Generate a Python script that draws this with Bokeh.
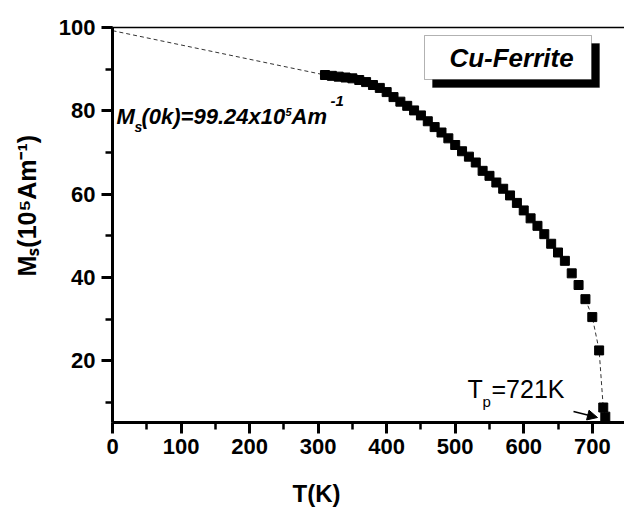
import math
from bokeh.plotting import figure
from bokeh.models import (Range1d, SingleIntervalTicker, FixedTicker, LinearAxis, Label,
                          BoxAnnotation, Arrow, NormalHead, Title)
from bokeh.embed import file_html
from bokeh.resources import INLINE

# ---- data ----
T_K = [310, 320, 330, 340, 350, 360, 370, 380, 390, 400,
       410, 420, 430, 440, 450, 460, 470, 480, 490, 500,
       510, 520, 530, 540, 550, 560, 570, 580, 590, 600,
       610, 620, 630, 640, 650, 660, 670, 680, 690, 700,
       710, 716, 719]
Ms = [88.6, 88.4, 88.2, 88.0, 87.8, 87.4, 86.9, 86.2, 85.5, 84.5,
      83.3, 82.2, 81.2, 80.1, 78.9, 77.5, 76.1, 74.8, 73.4, 71.8,
      70.3, 69.0, 67.6, 65.6, 64.4, 62.8, 61.3, 59.7, 57.9, 56.1,
      54.2, 52.4, 50.4, 48.1, 46.0, 44.0, 41.0, 38.2, 34.8, 30.5,
      22.5, 8.8, 6.6]
Ms_0K = 99.24
T_P = 721
TAIL_FROM = 690          # dashed guide through the points from here on
X_RANGE = (0, 747)
Y_RANGE = (5.2, 100)
X_TICK_STEP = 100
Y_TICK_STEP = 20

FONT = "Liberation Sans"
BLACK = "#000000"

# frame placement (canvas pixels)
F_LEFT, F_TOP, F_BOTTOM = 112, 27, 422
W, H = 624, 508

p = figure(width=W, height=H, output_backend="svg", toolbar_location=None,
           x_range=Range1d(*X_RANGE), y_range=Range1d(*Y_RANGE),
           min_border_left=F_LEFT, min_border_right=0, min_border_top=F_TOP,
           min_border_bottom=H - F_BOTTOM)
p.outline_line_color = None
p.grid.visible = False
p.background_fill_color = "white"
p.border_fill_color = "white"

p.xaxis.ticker = SingleIntervalTicker(interval=X_TICK_STEP, num_minor_ticks=2)
p.yaxis.ticker = SingleIntervalTicker(interval=Y_TICK_STEP, num_minor_ticks=2)
for ax in (p.xaxis[0], p.yaxis[0]):
    ax.axis_line_width = 3
    ax.axis_line_color = BLACK
    ax.major_tick_line_width = 3
    ax.minor_tick_line_width = 2.5
    ax.major_tick_line_color = BLACK
    ax.minor_tick_line_color = BLACK
    ax.major_tick_in = 0
    ax.major_tick_out = 11
    ax.minor_tick_in = 0
    ax.minor_tick_out = 7
    ax.major_label_text_font = FONT
    ax.major_label_text_font_style = "bold"
    ax.major_label_text_font_size = "22px"
    ax.major_label_text_color = BLACK
    # tiny blank axis label used only as a spacer before the titles
    ax.axis_label = " "
    ax.axis_label_text_font_size = "1px"
p.xaxis.major_label_standoff = 5
p.yaxis.major_label_standoff = 6
p.xaxis.axis_label_standoff = 16
p.yaxis.axis_label_standoff = 6

top = LinearAxis(ticker=FixedTicker(ticks=[]), axis_line_width=1.5, axis_line_color=BLACK,
                 major_tick_line_color=None, minor_tick_line_color=None,
                 major_label_text_font_size="0px")
p.add_layout(top, "above")

# axis titles
p.add_layout(Title(text="M\u209b(10\u2075Am\u207b\u00b9)", align="left", offset=146,
                   standoff=10, text_font=FONT, text_font_style="bold",
                   text_font_size="25px", text_color=BLACK), "left")
p.add_layout(Title(text="T(K)", align="left", offset=180, standoff=2,
                   text_font=FONT, text_font_style="bold",
                   text_font_size="24px", text_color=BLACK), "below")

# extrapolation to 0 K
p.line([X_RANGE[0], T_K[0]], [Ms_0K, Ms[0]], line_dash="4 3", line_color="#333333", line_width=1)
# guide near the transition
tail = [i for i, t in enumerate(T_K) if t >= TAIL_FROM]
p.line([T_K[i] for i in tail], [Ms[i] for i in tail], line_dash="4 3",
       line_color="#333333", line_width=1)
p.scatter(T_K, Ms, marker="square", size=9, fill_color=BLACK, line_color=BLACK)

def lab(text, px, baseline, size, style="bold", align="left"):
    """Place a text by its canvas x and baseline y (frame-relative screen units)."""
    p.add_layout(Label(x=px - F_LEFT, y=F_BOTTOM - (baseline - 0.4 * size),
                       x_units="screen", y_units="screen", text=text,
                       text_font=FONT, text_font_style=style, text_font_size=f"{size}px",
                       text_color=BLACK, text_align=align, text_baseline="alphabetic"))

# Ms(0K) annotation
BI = "bold italic"
lab("M", 116, 125, 22, BI)
lab("s", 134, 132, 14, BI)
lab("(0k)=%.2fx10" % Ms_0K, 141, 125, 22, BI)
lab("5", 285, 116, 11, BI)
lab("Am", 291, 125, 22, BI)
lab("-1", 330, 106, 15, BI)

# Tp annotation
lab("T", 467, 398, 25, "normal")
lab("p", 482, 407, 15, "normal")
lab("=%dK" % T_P, 491, 398, 25, "normal")
p.add_layout(Arrow(x_start=573 - F_LEFT, y_start=F_BOTTOM - 411,
                   x_end=597 - F_LEFT, y_end=F_BOTTOM - 417,
                   start_units="screen", end_units="screen",
                   line_color=BLACK, line_width=1.5,
                   end=NormalHead(size=10, fill_color=BLACK, line_color=BLACK)))

# legend box with shadow
def box(l, t, r, b, color, lw):
    p.add_layout(BoxAnnotation(left=l - F_LEFT, right=r - F_LEFT,
                               top=F_BOTTOM - t, bottom=F_BOTTOM - b,
                               left_units="screen", right_units="screen",
                               top_units="screen", bottom_units="screen",
                               fill_color=color, fill_alpha=1.0, line_color=BLACK,
                               line_width=lw))
box(432, 43, 599, 87, BLACK, 1)
box(424, 35, 591, 79, "white", 1)
lab("Cu-Ferrite", 511, 68, 26, BI, align="center")

open("out.html", "w").write(file_html(p, INLINE))
